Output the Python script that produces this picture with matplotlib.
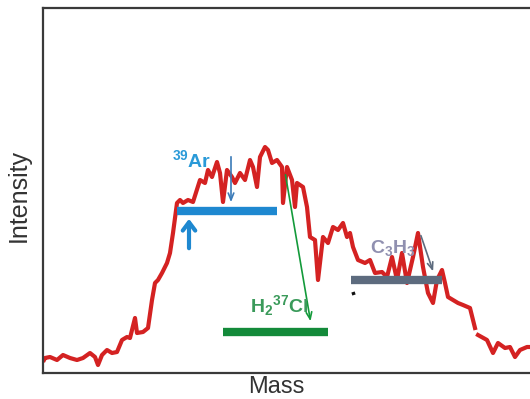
import numpy as np
import matplotlib
matplotlib.use("Agg")
import matplotlib.pyplot as plt

plt.rcParams['font.family'] = ['Liberation Sans', 'DejaVu Sans']
plt.rcParams['mathtext.fontset'] = 'custom'
plt.rcParams['mathtext.rm'] = 'Liberation Sans'
plt.rcParams['mathtext.bf'] = 'Liberation Sans:bold'

# Spectrum trace (arbitrary units): mass, intensity
mass = [1, 2, 7, 14, 20, 27, 34, 40, 47, 52, 55, 59, 64, 69, 74, 79, 84, 87, 92, 94,
        100, 105, 109, 112, 115, 119, 124, 127, 130, 134, 137, 140, 145, 150, 157, 162,
        165, 169, 174, 177, 180, 184, 189, 192, 197, 202, 207, 210, 214, 217, 222, 225,
        229, 234, 239, 240, 244, 249, 252, 254, 260, 264, 267, 272, 275, 280, 285, 290,
        295, 300, 304, 307, 310, 315, 322, 327, 332, 339, 344, 349, 354, 359, 364, 370,
        375, 380, 385, 390, 394, 399, 402, 405, 410, 415, 420, 427, 432, 435, 435, 444,
        450, 455, 462, 467, 472, 477, 484, 487]
intensity = [13, 15, 16, 13, 18, 15, 13, 15, 20, 16, 8, 18, 23, 20, 21, 33, 36, 35, 55, 40,
             41, 45, 73, 90, 93, 100, 110, 120, 140, 170, 173, 170, 173, 171, 193, 190,
             203, 196, 211, 200, 171, 203, 196, 190, 200, 193, 213, 206, 186, 216, 226, 223,
             210, 213, 206, 170, 206, 193, 166, 190, 186, 166, 136, 133, 93, 136, 130, 146,
             143, 150, 136, 140, 126, 113, 110, 113, 100, 101, 96, 116, 93, 120, 90, 116,
             140, 106, 80, 70, 93, 103, 90, 76, 73, 70, 68, 65, 45, np.nan, 38, 33,
             20, 30, 25, 26, 16, 23, 26, 26]

fig = plt.figure(figsize=(5.30, 3.99), dpi=100)
ax = fig.add_axes([43/530, 26/399, 1 - 43/530, 365/399])
ax.set_xlim(0, 487)
ax.set_ylim(0, 365)
ax.set_xticks([])
ax.set_yticks([])
for s in ['left', 'bottom', 'top']:
    ax.spines[s].set_color('#3a3a3a')
    ax.spines[s].set_linewidth(1.6)
ax.spines['right'].set_visible(False)

ax.plot(mass, intensity, color='#d42222', lw=3, solid_joinstyle='round', zorder=2)

# Peak-position bars
ax.plot([134, 234], [162, 162], color='#1e88d0', lw=6, solid_capstyle='butt', zorder=3)
ax.plot([180, 285], [41, 41], color='#138a3a', lw=6, solid_capstyle='butt', zorder=3)
ax.plot([308, 399], [93, 93], color='#5d6b7e', lw=6, solid_capstyle='butt', zorder=3)
# small stray mark
ax.plot([310, 311], [81, 78], color='#111111', lw=2.5, solid_capstyle='butt', zorder=3)

# Arrows
ax.annotate('', xy=(146, 157), xytext=(146, 122),
            arrowprops=dict(arrowstyle='->,head_length=0.6,head_width=0.45', color='#1e88d0', lw=3),
            zorder=4)
ax.annotate('', xy=(188, 168), xytext=(188, 219),
            arrowprops=dict(arrowstyle='->,head_length=0.5,head_width=0.2', color='#3a7ab8', lw=1.2),
            zorder=4)
ax.annotate('', xy=(268, 49), xytext=(242, 201),
            arrowprops=dict(arrowstyle='->,head_length=0.5,head_width=0.2', color='#139a3a', lw=1.2),
            zorder=4)
ax.annotate('', xy=(391, 99), xytext=(377, 140),
            arrowprops=dict(arrowstyle='->,head_length=0.5,head_width=0.2', color='#5d6b7e', lw=1.2),
            zorder=4)

# Labels
ax.text(129, 206, r'$\mathbf{^{39}Ar}$', color='#2a9ad8', fontsize=14, ha='left', va='baseline', zorder=5)
ax.text(207, 61, r'$\mathbf{H_2{}^{37}Cl}$', color='#3a9a5a', fontsize=14, ha='left', va='baseline', zorder=5)
ax.text(327, 120, r'$\mathbf{C_3H_3}$', color='#9090b0', fontsize=14, ha='left', va='baseline', zorder=5)

fig.text(276/530, 1 - 387/399, 'Mass', fontsize=17, color='#333333', ha='center', va='center')
fig.text(19/530, 1 - 196/399, 'Intensity', fontsize=18, color='#333333', ha='center', va='center',
         rotation=90)

fig.savefig('out.png', dpi=100)
